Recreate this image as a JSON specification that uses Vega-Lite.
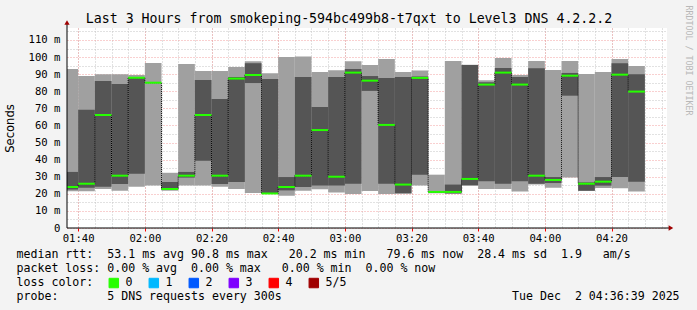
{
  "$schema": "https://vega.github.io/schema/vega-lite/v6.json",
  "width": 600,
  "height": 200,
  "autosize": {"type": "none"},
  "padding": {"left": 67, "top": 28, "right": 30, "bottom": 82},
  "background": "#f3f3f3",
  "config": {
    "view": {"fill": "#ffffff", "stroke": null},
    "axis": {"labelFont": "DejaVu Sans Mono", "labelFontSize": 10.6, "labelColor": "#000000", "titleColor": "#000000", "titleFontWeight": "normal", "gridDash": [1, 2], "gridOpacity": 1, "domain": false}
  },
  "data": {
    "values": [
      {"start": "2025-12-02T01:35:00Z", "end": "2025-12-02T01:40:00Z", "lo": 21.5, "lo2": 22.5, "med": 24.0, "hi2": 32.8, "hi": 93.0, "loss": "0"},
      {"start": "2025-12-02T01:40:00Z", "end": "2025-12-02T01:45:00Z", "lo": 21.5, "lo2": 23.5, "med": 25.9, "hi2": 69.2, "hi": 88.9, "loss": "0"},
      {"start": "2025-12-02T01:45:00Z", "end": "2025-12-02T01:50:00Z", "lo": 22.8, "lo2": 24.2, "med": 66.1, "hi2": 86.0, "hi": 89.9, "loss": "0"},
      {"start": "2025-12-02T01:50:00Z", "end": "2025-12-02T01:55:00Z", "lo": 21.8, "lo2": 25.7, "med": 30.6, "hi2": 84.3, "hi": 89.9, "loss": "0"},
      {"start": "2025-12-02T01:55:00Z", "end": "2025-12-02T02:00:00Z", "lo": 24.2, "lo2": 31.8, "med": 87.9, "hi2": 88.4, "hi": 89.5, "loss": "0"},
      {"start": "2025-12-02T02:00:00Z", "end": "2025-12-02T02:05:00Z", "lo": 24.8, "lo2": 85.0, "med": 85.0, "hi2": 85.0, "hi": 96.5, "loss": "0"},
      {"start": "2025-12-02T02:05:00Z", "end": "2025-12-02T02:10:00Z", "lo": 21.8, "lo2": 22.3, "med": 22.8, "hi2": 26.9, "hi": 32.3, "loss": "0"},
      {"start": "2025-12-02T02:10:00Z", "end": "2025-12-02T02:15:00Z", "lo": 24.8, "lo2": 29.5, "med": 30.6, "hi2": 32.8, "hi": 96.0, "loss": "0"},
      {"start": "2025-12-02T02:15:00Z", "end": "2025-12-02T02:20:00Z", "lo": 24.8, "lo2": 39.4, "med": 66.1, "hi2": 86.6, "hi": 91.9, "loss": "0"},
      {"start": "2025-12-02T02:20:00Z", "end": "2025-12-02T02:25:00Z", "lo": 24.2, "lo2": 25.7, "med": 30.6, "hi2": 75.5, "hi": 91.9, "loss": "0"},
      {"start": "2025-12-02T02:25:00Z", "end": "2025-12-02T02:30:00Z", "lo": 22.8, "lo2": 26.9, "med": 87.4, "hi2": 88.4, "hi": 94.2, "loss": "0"},
      {"start": "2025-12-02T02:30:00Z", "end": "2025-12-02T02:35:00Z", "lo": 20.5, "lo2": 84.8, "med": 89.5, "hi2": 96.4, "hi": 97.5, "loss": "0"},
      {"start": "2025-12-02T02:35:00Z", "end": "2025-12-02T02:40:00Z", "lo": 20.0, "lo2": 20.1, "med": 20.2, "hi2": 87.2, "hi": 90.5, "loss": "0"},
      {"start": "2025-12-02T02:40:00Z", "end": "2025-12-02T02:45:00Z", "lo": 18.9, "lo2": 22.0, "med": 24.0, "hi2": 29.8, "hi": 100.1, "loss": "0"},
      {"start": "2025-12-02T02:45:00Z", "end": "2025-12-02T02:50:00Z", "lo": 21.8, "lo2": 24.0, "med": 30.6, "hi2": 88.4, "hi": 100.4, "loss": "0"},
      {"start": "2025-12-02T02:50:00Z", "end": "2025-12-02T02:55:00Z", "lo": 22.6, "lo2": 24.8, "med": 57.3, "hi2": 70.8, "hi": 91.3, "loss": "0"},
      {"start": "2025-12-02T02:55:00Z", "end": "2025-12-02T03:00:00Z", "lo": 20.7, "lo2": 24.8, "med": 30.0, "hi2": 88.4, "hi": 92.3, "loss": "0"},
      {"start": "2025-12-02T03:00:00Z", "end": "2025-12-02T03:05:00Z", "lo": 19.9, "lo2": 25.9, "med": 90.9, "hi2": 93.0, "hi": 97.5, "loss": "0"},
      {"start": "2025-12-02T03:05:00Z", "end": "2025-12-02T03:10:00Z", "lo": 21.6, "lo2": 80.2, "med": 86.2, "hi2": 88.9, "hi": 95.4, "loss": "0"},
      {"start": "2025-12-02T03:10:00Z", "end": "2025-12-02T03:15:00Z", "lo": 19.9, "lo2": 25.9, "med": 60.3, "hi2": 87.8, "hi": 98.9, "loss": "0"},
      {"start": "2025-12-02T03:15:00Z", "end": "2025-12-02T03:20:00Z", "lo": 20.1, "lo2": 20.3, "med": 25.4, "hi2": 88.4, "hi": 91.3, "loss": "0"},
      {"start": "2025-12-02T03:20:00Z", "end": "2025-12-02T03:25:00Z", "lo": 24.8, "lo2": 31.2, "med": 87.8, "hi2": 88.7, "hi": 92.1, "loss": "0"},
      {"start": "2025-12-02T03:25:00Z", "end": "2025-12-02T03:30:00Z", "lo": 20.3, "lo2": 20.8, "med": 21.1, "hi2": 21.4, "hi": 31.2, "loss": "0"},
      {"start": "2025-12-02T03:30:00Z", "end": "2025-12-02T03:35:00Z", "lo": 19.9, "lo2": 20.3, "med": 21.1, "hi2": 25.4, "hi": 97.7, "loss": "0"},
      {"start": "2025-12-02T03:35:00Z", "end": "2025-12-02T03:40:00Z", "lo": 24.6, "lo2": 25.2, "med": 28.7, "hi2": 95.4, "hi": 95.5, "loss": "0"},
      {"start": "2025-12-02T03:40:00Z", "end": "2025-12-02T03:45:00Z", "lo": 22.8, "lo2": 27.3, "med": 83.9, "hi2": 85.2, "hi": 86.4, "loss": "0"},
      {"start": "2025-12-02T03:45:00Z", "end": "2025-12-02T03:50:00Z", "lo": 22.8, "lo2": 25.9, "med": 90.9, "hi2": 93.6, "hi": 99.5, "loss": "0"},
      {"start": "2025-12-02T03:50:00Z", "end": "2025-12-02T03:55:00Z", "lo": 21.3, "lo2": 27.3, "med": 83.9, "hi2": 88.4, "hi": 89.5, "loss": "0"},
      {"start": "2025-12-02T03:55:00Z", "end": "2025-12-02T04:00:00Z", "lo": 25.4, "lo2": 25.9, "med": 30.6, "hi2": 93.4, "hi": 97.7, "loss": "0"},
      {"start": "2025-12-02T04:00:00Z", "end": "2025-12-02T04:05:00Z", "lo": 23.6, "lo2": 26.3, "med": 28.1, "hi2": 29.8, "hi": 92.5, "loss": "0"},
      {"start": "2025-12-02T04:05:00Z", "end": "2025-12-02T04:10:00Z", "lo": 29.5, "lo2": 77.4, "med": 89.1, "hi2": 90.7, "hi": 97.7, "loss": "0"},
      {"start": "2025-12-02T04:10:00Z", "end": "2025-12-02T04:15:00Z", "lo": 21.6, "lo2": 21.8, "med": 25.9, "hi2": 26.7, "hi": 90.1, "loss": "0"},
      {"start": "2025-12-02T04:15:00Z", "end": "2025-12-02T04:20:00Z", "lo": 23.4, "lo2": 24.8, "med": 27.1, "hi2": 29.8, "hi": 91.3, "loss": "0"},
      {"start": "2025-12-02T04:20:00Z", "end": "2025-12-02T04:25:00Z", "lo": 23.2, "lo2": 29.8, "med": 89.7, "hi2": 96.4, "hi": 98.9, "loss": "0"},
      {"start": "2025-12-02T04:25:00Z", "end": "2025-12-02T04:30:00Z", "lo": 21.3, "lo2": 27.1, "med": 79.8, "hi2": 89.9, "hi": 94.8, "loss": "0"}
    ]
  },
  "layer": [
    {
      "mark": {"type": "rect", "color": "#a0a0a0", "clip": true},
      "encoding": {
        "x": {"field": "start", "type": "temporal", "scale": {"type": "utc", "domain": [1764639399000, 1764650199000]},
          "axis": {"orient": "bottom", "values": [1764639600000,1764639900000,1764640200000,1764640500000,1764640800000,1764641100000,1764641400000,1764641700000,1764642000000,1764642300000,1764642600000,1764642900000,1764643200000,1764643500000,1764643800000,1764644100000,1764644400000,1764644700000,1764645000000,1764645300000,1764645600000,1764645900000,1764646200000,1764646500000,1764646800000,1764647100000,1764647400000,1764647700000,1764648000000,1764648300000,1764648600000,1764648900000,1764649200000,1764649500000,1764649800000,1764650100000],
            "grid": true, "gridColor": "#c4c4c4", "ticks": false, "labels": false, "title": null}},
        "x2": {"field": "end"},
        "y": {"field": "lo", "type": "quantitative", "scale": {"domain": [0, 117], "nice": false, "zero": false},
          "axis": {"orient": "left", "values": [5,15,25,35,45,55,65,75,85,95,105,115], "grid": true, "gridColor": "#c4c4c4", "ticks": false, "labels": false, "title": null}},
        "y2": {"field": "hi"}
      }
    },
    {
      "mark": {"type": "rect", "color": "#555555", "clip": true},
      "encoding": {
        "x": {"field": "start", "type": "temporal", "scale": {"type": "utc", "domain": [1764639399000, 1764650199000]},
          "axis": {"orient": "bottom", "values": [1764639600000,1764640800000,1764642000000,1764643200000,1764644400000,1764645600000,1764646800000,1764648000000,1764649200000],
            "labelExpr": "utcFormat(datum.value, '%H:%M')", "labelAngle": 0, "labelFlush": false, "labelOverlap": false,
            "grid": true, "gridColor": "#f2a0a0", "ticks": true, "tickColor": "#ff0000", "tickSize": 3, "labelPadding": 2,
            "title": [
              "median rtt:\u00a0\u00a053.1 ms avg 90.8 ms max\u00a0\u00a0\u00a020.2 ms min\u00a0\u00a0\u00a079.6 ms now\u00a0\u00a028.4 ms sd\u00a0\u00a01.9\u00a0\u00a0\u00a0am/s",
              "packet loss: 0.00 % avg\u00a0\u00a00.00 % max\u00a0\u00a0\u00a00.00 % min\u00a0\u00a00.00 % now",
              "loss color:",
              "probe:\u00a0\u00a0\u00a0\u00a0\u00a0\u00a0\u00a05 DNS requests every 300s\u00a0\u00a0\u00a0\u00a0\u00a0\u00a0\u00a0\u00a0\u00a0\u00a0\u00a0\u00a0\u00a0\u00a0\u00a0\u00a0\u00a0\u00a0\u00a0\u00a0\u00a0\u00a0\u00a0\u00a0\u00a0\u00a0\u00a0\u00a0\u00a0\u00a0\u00a0\u00a0\u00a0Tue Dec\u00a0\u00a02 04:36:39 2025"
            ],
            "titleFont": "DejaVu Sans Mono", "titleFontSize": 11.6, "titleAlign": "left", "titleAnchor": "start", "titleX": -51, "titleY": 29.5, "titleBaseline": "alphabetic", "titleLineHeight": 14, "titleAngle": 0}},
        "x2": {"field": "end"},
        "y": {"field": "lo2", "type": "quantitative", "scale": {"domain": [0, 117], "nice": false, "zero": false},
          "axis": {"orient": "left", "values": [0,10,20,30,40,50,60,70,80,90,100,110],
            "labelExpr": "datum.value == 0 ? '0' : datum.value + ' m'",
            "grid": true, "gridColor": "#f2a0a0", "ticks": false, "labelPadding": 7,
            "title": "Seconds", "titleFont": "DejaVu Sans", "titleFontSize": 11.6, "titleAngle": 270, "titleX": -56.5, "titleY": 100, "titleAlign": "center", "titleBaseline": "middle"}},
        "y2": {"field": "hi2"}
      }
    },
    {
      "mark": {"type": "line", "interpolate": "step-after", "color": "#000000", "strokeWidth": 1, "strokeDash": [1, 1], "clip": true},
      "encoding": {
        "x": {"field": "start", "type": "temporal", "scale": {"type": "utc", "domain": [1764639399000, 1764650199000]},
          "axis": {"orient": "top", "grid": false, "ticks": false, "labels": false,
            "title": "Last 3 Hours from smokeping-594bc499b8-t7qxt to Level3 DNS 4.2.2.2",
            "titleFont": "DejaVu Sans Mono", "titleFontSize": 13.25, "titleX": 281.5, "titleY": -6, "titleAlign": "center", "titleBaseline": "alphabetic", "titleAngle": 0}},
        "y": {"field": "med", "type": "quantitative", "scale": {"domain": [0, 117], "nice": false, "zero": false},
          "axis": {"orient": "right", "grid": false, "ticks": false, "labels": false,
            "title": "RRDTOOL / TOBI OETIKER", "titleFont": "DejaVu Sans Mono", "titleFontSize": 8.3, "titleColor": "#b8b8b8",
            "titleAngle": 90, "titleX": 20.7, "titleY": 32, "titleAlign": "center", "titleBaseline": "middle"}}
      }
    },
    {
      "mark": {"type": "rule", "strokeWidth": 2, "clip": true},
      "encoding": {
        "x": {"field": "start", "type": "temporal", "scale": {"type": "utc", "domain": [1764639399000, 1764650199000]}, "axis": null},
        "x2": {"field": "end"},
        "y": {"field": "med", "type": "quantitative", "scale": {"domain": [0, 117], "nice": false, "zero": false}, "axis": null},
        "color": {"field": "loss", "type": "nominal",
          "scale": {"domain": ["0", "1", "2", "3", "4", "5/5"], "range": ["#26ff00", "#00b8ff", "#0059ff", "#7e00ff", "#ff0000", "#a00000"]},
          "legend": {"orient": "none", "legendX": 41, "legendY": 249, "direction": "horizontal", "title": null,
            "symbolType": "square", "symbolSize": 90, "symbolStrokeWidth": 1, "symbolOffset": 0,
            "labelFont": "DejaVu Sans Mono", "labelFontSize": 11.6, "labelColor": "#000000", "labelOffset": 6,
            "columnPadding": 14, "padding": 0,
            "encode": {"symbols": {"update": {"fill": {"scale": "color", "field": "value"}, "stroke": {"value": "#000000"}, "strokeWidth": {"value": 1}, "opacity": {"value": 1}, "fillOpacity": {"value": 1}}}}}}
      }
    },
    {
      "data": {"values": [{}]},
      "mark": {"type": "rule", "color": "#000000", "strokeWidth": 1},
      "encoding": {
        "x": {"datum": 1764639399000, "type": "temporal", "scale": {"type": "utc", "domain": [1764639399000, 1764650199000]}, "axis": null},
        "y": {"datum": 0, "type": "quantitative", "scale": {"domain": [0, 117], "nice": false, "zero": false}, "axis": null},
        "y2": {"datum": 120.5}
      }
    },
    {
      "data": {"values": [{}]},
      "mark": {"type": "rule", "color": "#000000", "strokeWidth": 1},
      "encoding": {
        "x": {"datum": 1764639399000, "type": "temporal", "scale": {"type": "utc", "domain": [1764639399000, 1764650199000]}, "axis": null},
        "x2": {"datum": 1764650280000},
        "y": {"datum": 0, "type": "quantitative", "scale": {"domain": [0, 117], "nice": false, "zero": false}, "axis": null}
      }
    },
    {
      "data": {"values": [{}]},
      "mark": {"type": "point", "shape": "triangle-up", "filled": true, "color": "#a00000", "size": 28, "opacity": 1},
      "encoding": {
        "x": {"datum": 1764639399000, "type": "temporal", "scale": {"type": "utc", "domain": [1764639399000, 1764650199000]}, "axis": null},
        "y": {"datum": 120.2, "type": "quantitative", "scale": {"domain": [0, 117], "nice": false, "zero": false}, "axis": null}
      }
    },
    {
      "data": {"values": [{}]},
      "mark": {"type": "point", "shape": "triangle-right", "filled": true, "color": "#a00000", "size": 28, "opacity": 1},
      "encoding": {
        "x": {"datum": 1764650270000, "type": "temporal", "scale": {"type": "utc", "domain": [1764639399000, 1764650199000]}, "axis": null},
        "y": {"datum": 0, "type": "quantitative", "scale": {"domain": [0, 117], "nice": false, "zero": false}, "axis": null}
      }
    }
  ],
  "resolve": {"axis": {"x": "independent", "y": "independent"}}
}
